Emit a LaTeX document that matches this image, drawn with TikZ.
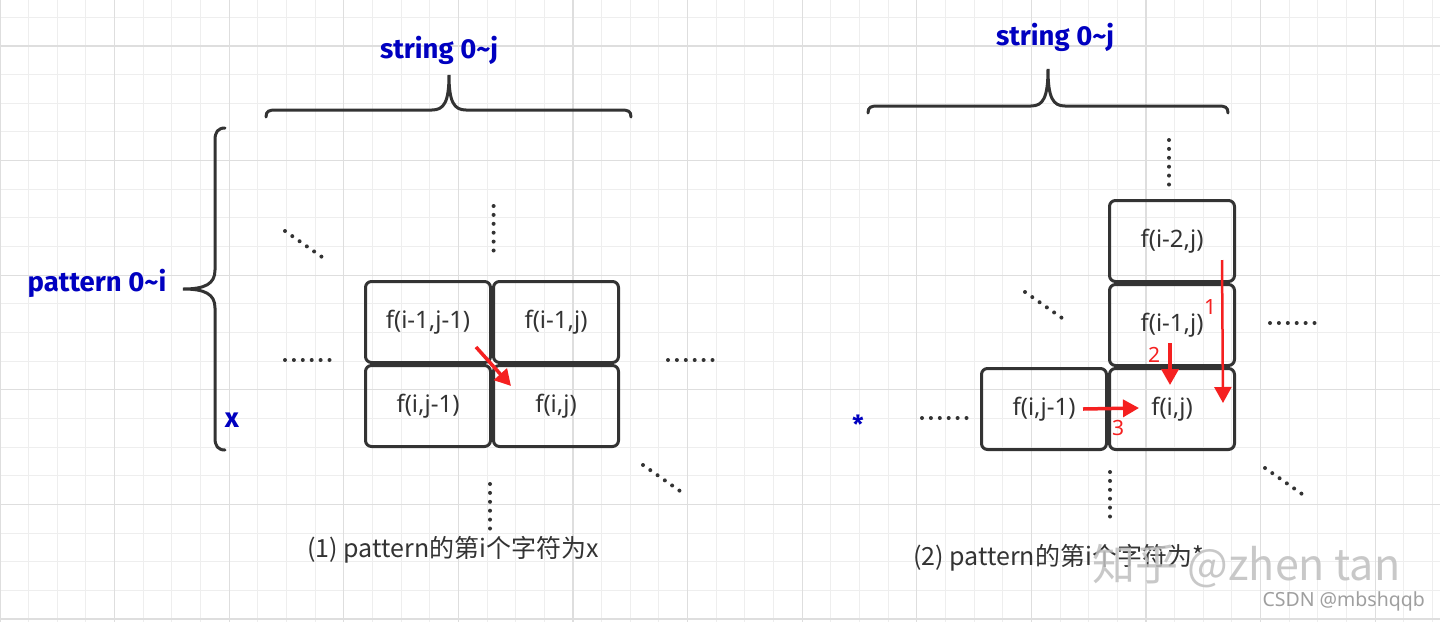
\documentclass[tikz,border=0pt]{standalone}
\usepackage{fontspec}
\setmainfont{Noto Sans}
\newfontfamily\cjk{Noto Sans CJK SC}
\newfontfamily\lblfont{Fira Sans}
\usepackage{tikz}
\usetikzlibrary{arrows.meta,positioning}
\definecolor{labelblue}{RGB}{0,0,192}
\definecolor{boxgray}{RGB}{51,51,51}
\definecolor{arrred}{RGB}{245,32,32}
\definecolor{minorgrid}{RGB}{238,238,238}
\definecolor{majorgrid}{RGB}{222,222,222}

\begin{document}
\begin{tikzpicture}[x=1pt,y=-1pt,
  gridminor/.style={draw=minorgrid,line width=1pt},
  gridmajor/.style={draw=majorgrid,line width=1.3pt},
  box/.style={draw=boxgray,line width=3pt,rounded corners=6pt,minimum width=125pt,minimum height=81pt,inner sep=0pt,text=boxgray,font=\fontsize{24}{28}\selectfont},
  brc/.style={draw=boxgray,line width=3pt,line cap=round},
  dots/.style={draw=boxgray,line width=4pt,line cap=round,dash pattern=on 0pt off 8.9pt},
  lbl/.style={text=labelblue,font=\lblfont\bfseries\fontsize{27.5}{32}\selectfont,inner sep=0pt},
  captxt/.style={text=boxgray,font=\cjk\fontsize{25}{30}\selectfont,inner sep=0pt},
  num/.style={text=arrred,font=\fontsize{21}{25}\selectfont,inner sep=0pt},
  redarr/.style={draw=arrred,line width=3.5pt,-{Triangle[length=16pt,width=17pt]}}
]
\useasboundingbox[fill=white] (0,0) rectangle (1440,622);
\foreach \k in {0,...,50} \draw[gridminor] (\k*28.65,0) -- (\k*28.65,622);
\foreach \k in {0,...,21} \draw[gridminor] (0,17.3+\k*28.65) -- (1440,17.3+\k*28.65);
\foreach \k in {0,...,12} \draw[gridmajor] (\k*114.6,0) -- (\k*114.6,622);
\foreach \k in {0,...,5} \draw[gridmajor] (0,45.95+\k*114.6) -- (1440,45.95+\k*114.6);

\node[lbl] (str1) at (439,50) {string 0\textasciitilde j};
\node[lbl] (pat1) at (97,283) {pattern 0\textasciitilde i};
\node[lbl] (chx) at (232,420) {x};
\draw[brc] (266,117) .. controls (266,111) and (269,110) .. (276,110) -- (432,110) .. controls (444,110) and (449,102) .. (449,75) .. controls (449,102) and (454,110) .. (466,110) -- (621,110) .. controls (628,110) and (631,111) .. (631,117);
\draw[brc] (225,128) .. controls (218,128) and (215,132) .. (215,140) -- (215,270) .. controls (215,284) and (205,289) .. (183,289) .. controls (205,289) and (215,294) .. (215,308) -- (215,438) .. controls (215,446) and (218,450) .. (225,450);

\node[box] (a11) at (428,322) {f(i-1,j-1)};
\node[box,right=0pt of a11] (a12) {f(i-1,j)};
\node[box,below=0pt of a11] (a21) {f(i,j-1)};
\node[box,right=0pt of a21] (a22) {f(i,j)};
\coordinate (diags) at (476,347);
\coordinate (diage) at (511,386);
\draw[redarr] (diags) -- (diage);

\draw[dots] (285,360) -- ++(45,0);
\draw[dots] (668,360) -- ++(45,0);
\draw[dots] (493.6,206) -- ++(0,45);
\draw[dots] (490,484) -- ++(0,45);
\draw[dots] (285,231) -- (322,257);
\draw[dots] (643,465) -- (680,491);
\node[captxt] (cap1) at (453,550) {(1) pattern的第i个字符为x};

\node[lbl] (str2) at (1055,37) {string 0\textasciitilde j};
\node[lbl,font=\lblfont\bfseries\fontsize{25}{30}\selectfont] (chstar) at (858,424) {*};
\draw[brc] (868,113) .. controls (868,107) and (871,106) .. (878,106) -- (1031,106) .. controls (1043,106) and (1048,98) .. (1048,69) .. controls (1048,98) and (1053,106) .. (1065,106) -- (1218,106) .. controls (1225,106) and (1228,107) .. (1228,113);

\node[box] (b1) at (1172,241) {f(i-2,j)};
\node[box,below=0pt of b1] (b2) {f(i-1,j)};
\node[box,below=0pt of b2] (b3) {f(i,j)};
\node[box,left=0pt of b3] (b0) {f(i,j-1)};
\coordinate (ones) at (1222,260);
\coordinate (onee) at (1223,403);
\coordinate (twos) at (1170,343);
\coordinate (twoe) at (1170,385);
\coordinate (threes) at (1083,409);
\coordinate (threee) at (1139,408);
\draw[redarr,line width=2.5pt] (ones) -- (onee);
\draw[redarr] (twos) -- (twoe);
\draw[redarr] (threes) -- (threee);
\node[num] (n1) at (1210,307) {1};
\node[num] (n2) at (1154,355) {2};
\node[num] (n3) at (1118,428) {3};

\draw[dots] (1169,140) -- ++(0,45);
\draw[dots] (1025,292) -- (1062,318);
\draw[dots] (1270,323) -- ++(45,0);
\draw[dots] (922,418) -- ++(45,0);
\draw[dots] (1110,472) -- ++(0,45);
\draw[dots] (1265,468) -- (1302,494);
\node[captxt,anchor=west] (cap2) at (913,558) {(2) pattern的第i个字符为*};

\node[anchor=west,text=gray!50,opacity=0.85,font=\cjk\fontsize{43}{48}\selectfont,inner sep=0pt] (wmark) at (1092,566) {知乎 @zhen tan};
\node[anchor=east,text=gray!75,font=\fontsize{19.5}{23}\selectfont,inner sep=0pt] (csdn) at (1425,601) {CSDN @mbshqqb};
\end{tikzpicture}
\end{document}
